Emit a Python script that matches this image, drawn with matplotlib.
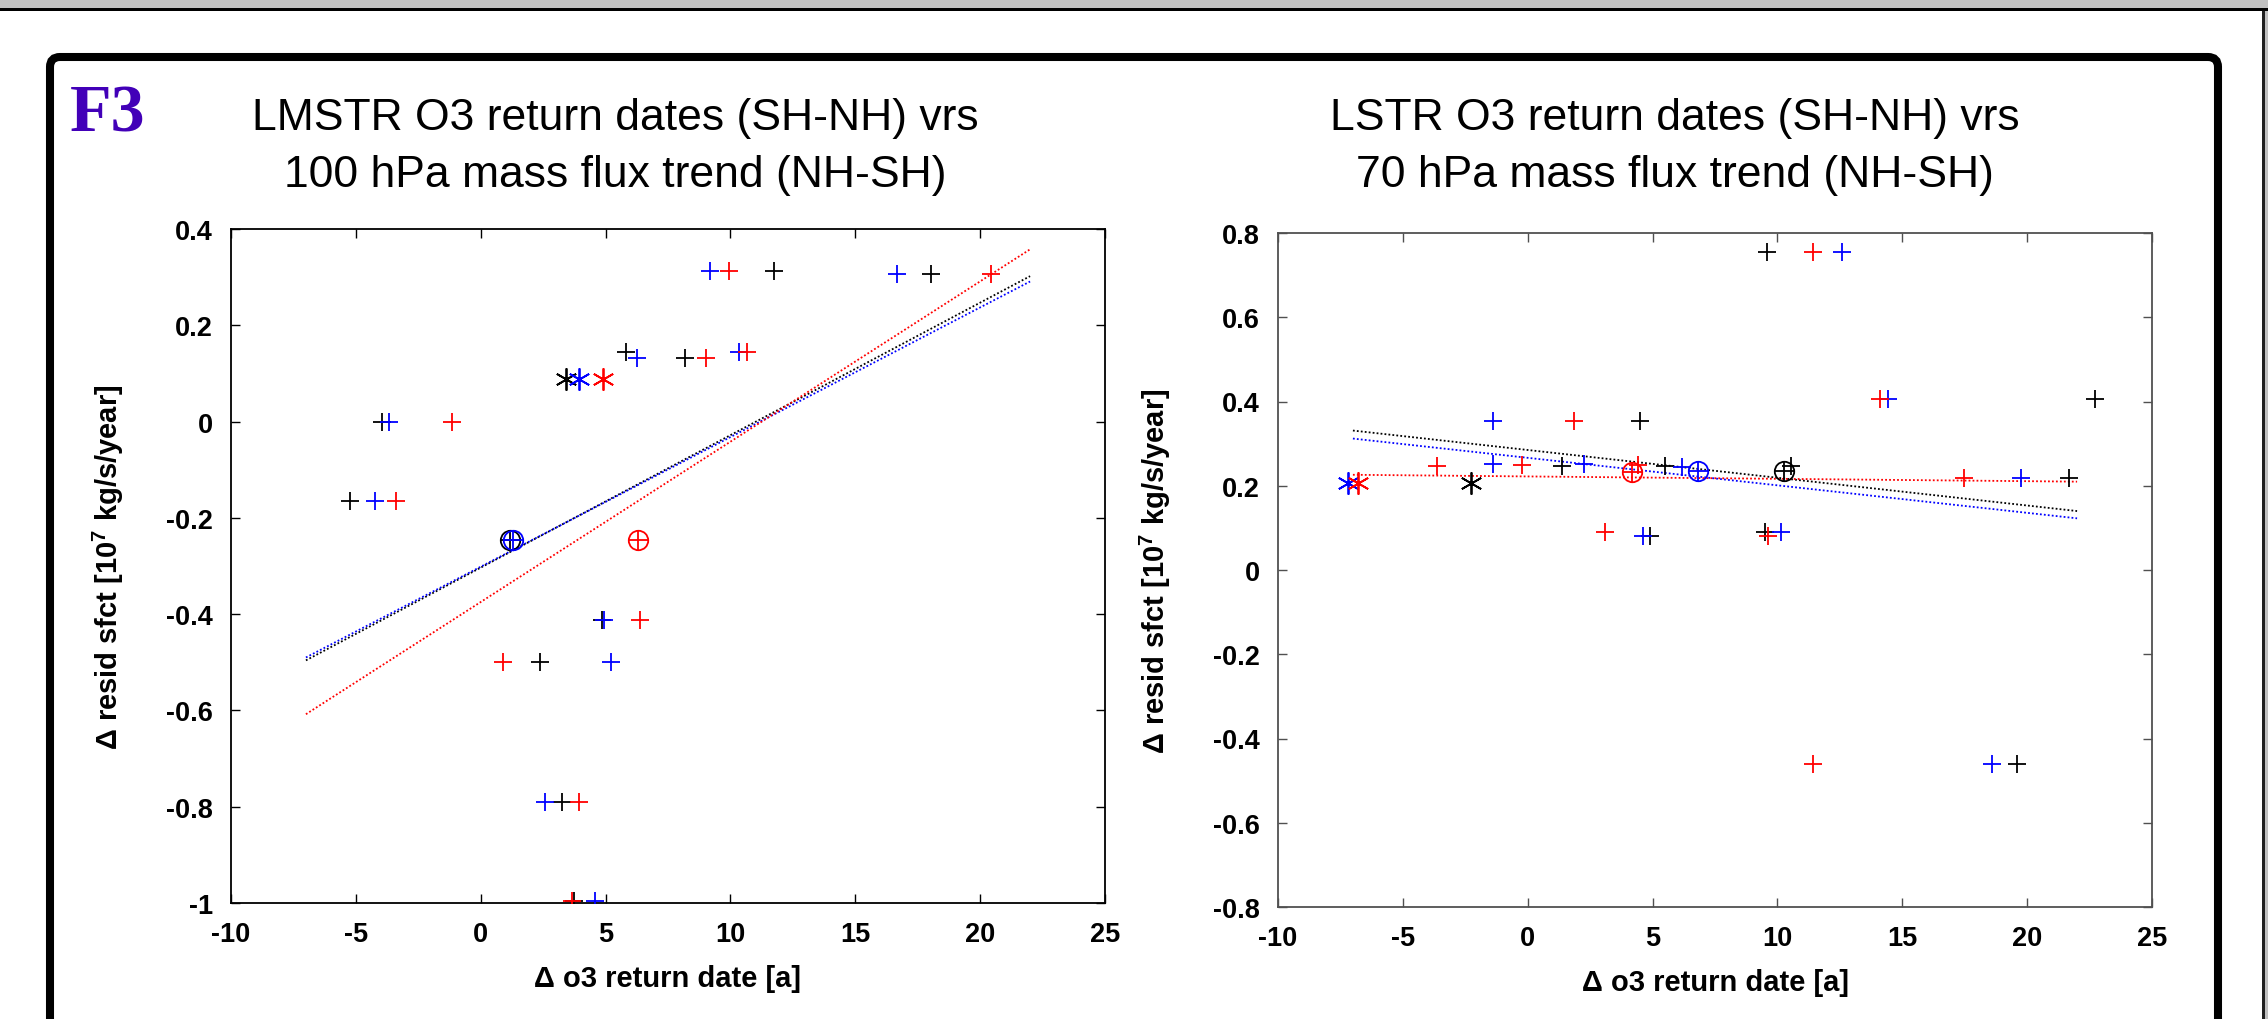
import matplotlib
matplotlib.use('Agg')
import matplotlib.pyplot as plt
from matplotlib.patches import FancyBboxPatch, Rectangle
from matplotlib.transforms import IdentityTransform
import numpy as np

# ---------------- data ----------------
COLORS = ['black', 'blue', 'red']

# left panel: LMSTR vs 100 hPa
L_X_BLACK = [11.73, 18.04, 5.83, 8.20, -3.94, -5.23, 4.86, 2.37, 3.25, 3.73]
L_Y_BLACK = [0.312, 0.306, 0.144, 0.132, 0.0, -0.165, -0.413, -0.500, -0.791, -0.995]
L_X_BLUE = [9.19, 16.66, 10.35, 6.24, -3.66, -4.24, 4.93, 5.23, 2.56, 4.59]
L_Y_BLUE = [0.312, 0.306, 0.144, 0.132, 0.0, -0.165, -0.413, -0.500, -0.791, -0.995]
L_X_RED = [9.93, 20.44, 10.67, 9.01, -1.13, -3.39, 6.38, 0.88, 3.94, 3.66]
L_Y_RED = [0.312, 0.306, 0.144, 0.132, 0.0, -0.165, -0.413, -0.500, -0.791, -0.995]
L_STAR_X = [3.43, 3.94, 4.91]          # black, blue, red
L_STAR_Y = [0.0886, 0.0886, 0.0886]
L_MEAN_X = [1.18, 1.29, 6.29]
L_MEAN_Y = [-0.245, -0.245, -0.245]
L_FIT_SLOPE = [0.02752, 0.02693, 0.0333]
L_FIT_ICPT = [-0.3034, -0.3015, -0.3748]

# right panel: LSTR vs 70 hPa
R_X_BLACK = [9.57, 22.71, 4.48, 1.38, 5.50, 10.54, 21.66, 9.49, 4.91, 19.59]
R_Y_BLACK = [0.754, 0.4066, 0.3536, 0.248, 0.248, 0.248, 0.219, 0.091, 0.0815, -0.4616]
R_X_BLUE = [12.58, 14.42, -1.38, -1.38, 2.25, 6.19, 19.74, 10.15, 4.60, 18.59]
R_Y_BLUE = [0.754, 0.4066, 0.3536, 0.251, 0.251, 0.245, 0.219, 0.091, 0.0815, -0.4616]
R_X_RED = [11.43, 14.12, 1.87, -3.63, -0.23, 4.40, 17.49, 3.09, 9.64, 11.44]
R_Y_RED = [0.754, 0.4066, 0.3536, 0.248, 0.25, 0.25, 0.219, 0.091, 0.0815, -0.4616]
R_STAR_X = [-2.28, -7.19, -6.78]
R_STAR_Y = [0.2057, 0.2057, 0.2057]
R_MEAN_X = [10.28, 6.83, 4.19]
R_MEAN_Y = [0.236, 0.236, 0.233]
R_FIT_SLOPE = [-0.00659, -0.00653, -0.000562]
R_FIT_ICPT = [0.2849, 0.2663, 0.2221]

FIT_X_RANGE = [-7, 22]

X_TICKS = [-10, -5, 0, 5, 10, 15, 20, 25]
X_TICKLABELS = ['-10', '-5', '0', '5', '10', '15', '20', '25']
L_Y_TICKS = [-1, -0.8, -0.6, -0.4, -0.2, 0, 0.2, 0.4]
L_Y_TICKLABELS = ['-1', '-0.8', '-0.6', '-0.4', '-0.2', '0', '0.2', '0.4']
R_Y_TICKS = [-0.8, -0.6, -0.4, -0.2, 0, 0.2, 0.4, 0.6, 0.8]
R_Y_TICKLABELS = ['-0.8', '-0.6', '-0.4', '-0.2', '0', '0.2', '0.4', '0.6', '0.8']

L_TITLE = ['LMSTR O3 return dates (SH-NH) vrs', '100 hPa mass flux trend (NH-SH)']
R_TITLE = ['LSTR O3 return dates (SH-NH) vrs', '70 hPa mass flux trend (NH-SH)']
XLABEL = 'Δ o3 return date [a]'
YLABEL = r'Δ resid sfct [10$^{\mathbf{7}}$ kg/s/year]'
PANEL_TAG = 'F3'

# ---------------- style ----------------
plt.rcParams['font.family'] = ['Liberation Sans', 'DejaVu Sans']
plt.rcParams['mathtext.fontset'] = 'custom'
plt.rcParams['mathtext.rm'] = 'Liberation Sans'
plt.rcParams['mathtext.bf'] = 'Liberation Sans:bold'
plt.rcParams['mathtext.it'] = 'Liberation Sans:italic'

W, H, DPI = 2268, 1020, 100
fig = plt.figure(figsize=(W / DPI, H / DPI), dpi=DPI)
fig.patch.set_facecolor('white')

# window-like frame
fig.patches.append(Rectangle((0, H - 9), W, 9, transform=IdentityTransform(),
                             facecolor='#c0c0c0', edgecolor='none'))
fig.patches.append(Rectangle((0, H - 12), W, 3, transform=IdentityTransform(),
                             facecolor='black', edgecolor='none'))
fig.patches.append(Rectangle((W - 6, 0), 3, H - 12, transform=IdentityTransform(),
                             facecolor='#202020', edgecolor='none'))
fig.patches.append(Rectangle((W - 3, 0), 3, H - 12, transform=IdentityTransform(),
                             facecolor='#c0c0c0', edgecolor='none'))
fig.patches.append(FancyBboxPatch((50, -30), 2168, H - 58 + 30,
                                  boxstyle='round,pad=0,rounding_size=10',
                                  transform=IdentityTransform(),
                                  linewidth=5.8, edgecolor='black', facecolor='none'))

fig.text(70 / W, 1 - 132 / H, PANEL_TAG, family=['Liberation Serif'], weight='bold',
         fontsize=49, color='#4200b8', ha='left', va='baseline')


def panel(rect, xs, ys, star_x, star_y, mean_x, mean_y, slopes, icpts,
          yticks, yticklabels, ylim, spine_color, title, title_cx, ylabel_x):
    ax = fig.add_axes(rect)
    ax.set_xlim(-10, 25)
    ax.set_ylim(*ylim)
    fx = np.array(FIT_X_RANGE, dtype=float)
    for c, s, b in zip(COLORS, slopes, icpts):
        ax.plot(fx, s * fx + b, color=c, linestyle=(0, (1, 1.2)), linewidth=1.3, zorder=2)
    for c, x, y in zip(COLORS, xs, ys):
        ax.plot(x, y, linestyle='none', marker='+', markersize=13,
                markeredgewidth=1.3, color=c, zorder=3)
    for c, x, y in zip(COLORS, star_x, star_y):
        ax.plot([x], [y], linestyle='none', marker=(6, 2, 0), markersize=16,
                markeredgewidth=1.3, color=c, zorder=3)
    for c, x, y in zip(COLORS, mean_x, mean_y):
        ax.plot([x], [y], linestyle='none', marker='o', markersize=14,
                markerfacecolor='none', markeredgewidth=1.3, color=c, zorder=3)
        ax.plot([x], [y], linestyle='none', marker='+', markersize=14,
                markeredgewidth=1.3, color=c, zorder=3)
    ax.set_xticks(X_TICKS)
    ax.set_xticklabels(X_TICKLABELS)
    ax.set_yticks(yticks)
    ax.set_yticklabels(yticklabels)
    ax.tick_params(direction='in', length=6.5, width=1.0, top=True, right=True,
                   labelsize=19.5, color=spine_color)
    ax.tick_params(axis='x', pad=13)
    ax.tick_params(axis='y', pad=13)
    for lab in ax.get_xticklabels() + ax.get_yticklabels():
        lab.set_fontweight('bold')
    for sp in ax.spines.values():
        sp.set_color(spine_color)
        sp.set_linewidth(1.3)
    ax.set_xlabel(XLABEL, fontsize=21, fontweight='bold')
    ax.xaxis.set_label_coords(0.5, -0.09)
    ax.xaxis.label.set_va('top')
    ax.set_ylabel(YLABEL, fontsize=21, fontweight='bold')
    ax.yaxis.set_label_coords(ylabel_x, 0.5)
    fig.text(title_cx / W, 1 - 130 / H, title[0], fontsize=32, ha='center', va='baseline')
    fig.text(title_cx / W, 1 - 187 / H, title[1], fontsize=32, ha='center', va='baseline')
    return ax


panel([231 / W, 1 - 904 / H, 874 / W, 674 / H],
      [L_X_BLACK, L_X_BLUE, L_X_RED], [L_Y_BLACK, L_Y_BLUE, L_Y_RED],
      L_STAR_X, L_STAR_Y, L_MEAN_X, L_MEAN_Y, L_FIT_SLOPE, L_FIT_ICPT,
      L_Y_TICKS, L_Y_TICKLABELS, (-1, 0.4), 'black', L_TITLE, 615, -0.120)

panel([1278 / W, 1 - 908 / H, 874 / W, 674 / H],
      [R_X_BLACK, R_X_BLUE, R_X_RED], [R_Y_BLACK, R_Y_BLUE, R_Y_RED],
      R_STAR_X, R_STAR_Y, R_MEAN_X, R_MEAN_Y, R_FIT_SLOPE, R_FIT_ICPT,
      R_Y_TICKS, R_Y_TICKLABELS, (-0.8, 0.8), '#505050', R_TITLE, 1675, -0.120)

fig.savefig('out.png', dpi=DPI, facecolor='white')
